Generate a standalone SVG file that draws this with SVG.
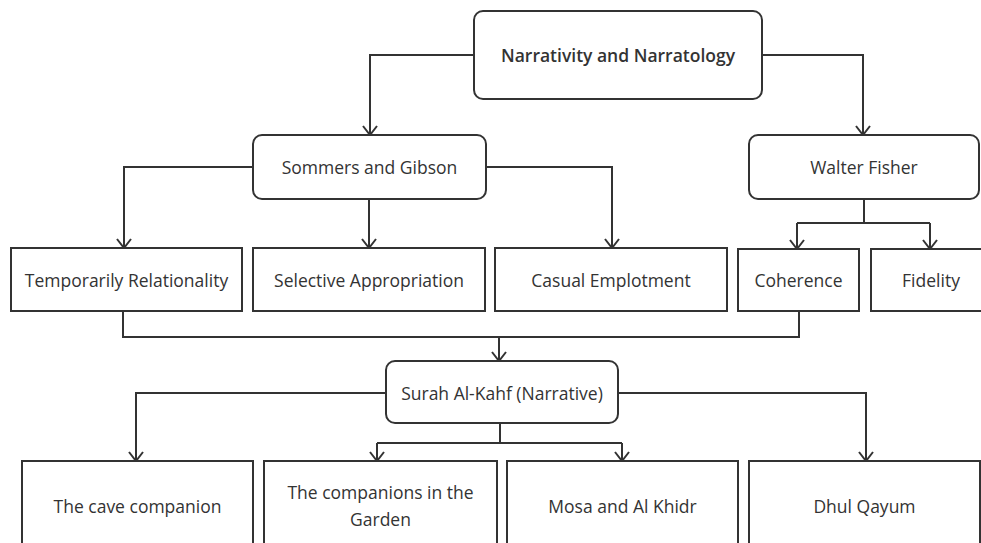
<svg xmlns="http://www.w3.org/2000/svg" width="981" height="543" viewBox="0 0 981 543">
<defs>
<marker id="arr" viewBox="0 0 11 16" refX="10" refY="8" markerWidth="11" markerHeight="16" markerUnits="userSpaceOnUse" orient="auto">
<polyline points="1,1 10,8 1,15" fill="none" stroke="#333" stroke-width="2"/>
</marker>
<style>
.n{fill:#fff;stroke:#333;stroke-width:2}
.t{font-family:"Open Sans","Noto Sans",sans-serif;font-size:17.5px;fill:#333;text-anchor:middle;dominant-baseline:central}
.c{fill:none;stroke:#333;stroke-width:2}
.a{marker-end:url(#arr)}
</style>
</defs>
<rect width="981" height="543" fill="#fff"/>
<g id="connectors">
<path class="c a" d="M474,55 H370 V135"/>
<path class="c a" d="M762,55 H863 V135"/>
<path class="c a" d="M253,167 H124 V248"/>
<path class="c a" d="M369,199 V248"/>
<path class="c a" d="M486,167 H612 V248"/>
<path class="c" d="M864,199 V223"/>
<path class="c a" d="M797,223 V249"/>
<path class="c a" d="M930,223 V249"/>
<path class="c" d="M797,223 H930"/>
<path class="c" d="M123,311 V337 H799 V311"/>
<path class="c a" d="M499,337 V361"/>
<path class="c a" d="M386,393 H136 V461"/>
<path class="c a" d="M618,393 H866 V461"/>
<path class="c" d="M500,423 V443"/>
<path class="c a" d="M377,443 V461"/>
<path class="c a" d="M622,443 V461"/>
<path class="c" d="M377,443 H622"/>
</g>
<g id="n-narrativity"><rect class="n" x="474" y="11" width="288" height="88" rx="9"/><text class="t" x="618" y="55" font-weight="600" font-size="16.5">Narrativity and Narratology</text></g>
<g id="n-sommers"><rect class="n" x="253" y="135" width="233" height="64" rx="9"/><text class="t" x="369.5" y="167">Sommers and Gibson</text></g>
<g id="n-fisher"><rect class="n" x="749" y="135" width="230" height="64" rx="9"/><text class="t" x="864" y="167">Walter Fisher</text></g>
<g id="n-temporal"><rect class="n" x="11" y="248" width="231" height="63"/><text class="t" x="126.5" y="280">Temporarily Relationality</text></g>
<g id="n-selective"><rect class="n" x="253" y="248" width="232" height="63"/><text class="t" x="369" y="280">Selective Appropriation</text></g>
<g id="n-casual"><rect class="n" x="495" y="248" width="232" height="63"/><text class="t" x="611" y="280">Casual Emplotment</text></g>
<g id="n-coherence"><rect class="n" x="738" y="249" width="121" height="62"/><text class="t" x="798.5" y="280">Coherence</text></g>
<g id="n-fidelity"><rect class="n" x="871" y="249" width="121" height="62"/><text class="t" x="931" y="280">Fidelity</text></g>
<g id="n-surah"><rect class="n" x="386" y="361" width="232" height="62" rx="9"/><text class="t" x="502" y="393">Surah Al-Kahf (Narrative)</text></g>
<g id="n-cave"><rect class="n" x="22" y="461" width="231" height="92"/><text class="t" x="137.5" y="506">The cave companion</text></g>
<g id="n-garden"><rect class="n" x="264" y="461" width="233" height="92"/><text class="t" x="380.5" y="492">The companions in the</text><text class="t" x="380.5" y="519">Garden</text></g>
<g id="n-mosa"><rect class="n" x="507" y="461" width="231" height="92"/><text class="t" x="622.5" y="506">Mosa and Al Khidr</text></g>
<g id="n-dhul"><rect class="n" x="749" y="461" width="231" height="92"/><text class="t" x="864.5" y="506">Dhul Qayum</text></g>
</svg>
